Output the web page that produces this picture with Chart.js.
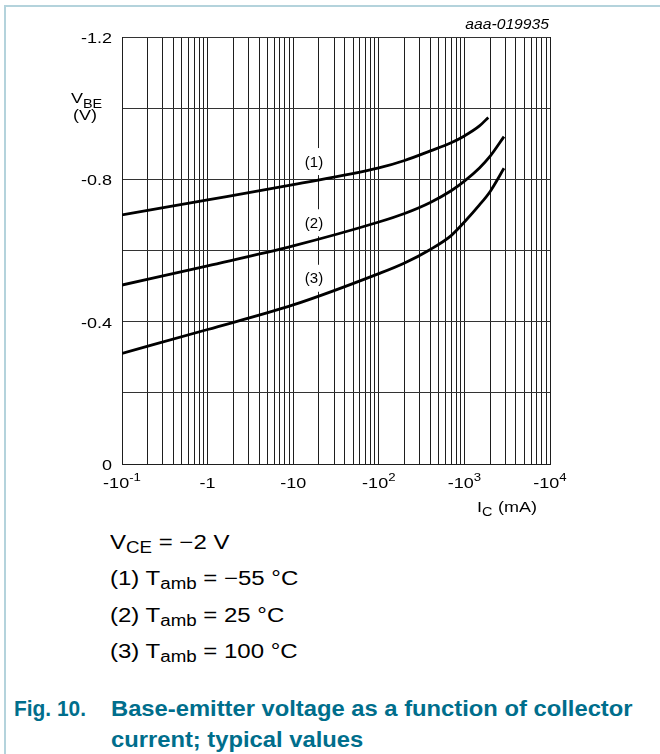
<!DOCTYPE html>
<html><head><meta charset="utf-8">
<script src="https://cdn.jsdelivr.net/npm/chart.js@4.4.0/dist/chart.umd.min.js"></script>
<style>
html,body{margin:0;padding:0;background:#fff;width:660px;height:754px;overflow:hidden;position:relative;font-family:"Liberation Sans",Arial,sans-serif;}
#frameTop{position:absolute;left:4px;top:5px;width:656px;height:0;border-top:2px solid #b4d3dc;}
#frameLeft{position:absolute;left:4px;top:5px;width:0;height:749px;border-left:2px solid #b4d3dc;}
#c{position:absolute;left:0;top:0;}
.cond{position:absolute;left:110px;font-size:20px;line-height:20px;color:#000;white-space:nowrap;transform:scaleX(1.2);transform-origin:0 0;}
.cond sub{font-size:0.78em;vertical-align:-4px;line-height:0;}
.cap{position:absolute;font-weight:bold;font-size:22px;line-height:22px;color:#006e8c;white-space:nowrap;transform-origin:0 0;}
</style></head>
<body>
<div id="frameTop"></div><div id="frameLeft"></div>
<canvas id="c" width="660" height="530"></canvas>
<div class="cond" style="top:532px">V<sub>CE</sub> = −2 V</div>
<div class="cond" style="top:568px">(1) T<sub>amb</sub> = −55 °C</div>
<div class="cond" style="top:605px">(2) T<sub>amb</sub> = 25 °C</div>
<div class="cond" style="top:641px">(3) T<sub>amb</sub> = 100 °C</div>
<div class="cap" style="left:14px;top:698px;transform:scaleX(0.95)">Fig. 10.</div>
<div class="cap" style="left:111px;top:698px;transform:scaleX(1.08)">Base-emitter voltage as a function of collector</div>
<div class="cap" style="left:111px;top:729px;transform:scaleX(1.08)">current; typical values</div>
<script>
// ---- data (collector current magnitude in mA, V_BE in V) ----
const icT1  = [0.1, 1, 10, 100, 200, 400, 700, 1000, 1500, 1900];
const vbeT1 = [-0.700, -0.742, -0.785, -0.832, -0.853, -0.880, -0.903, -0.922, -0.950, -0.974];
const icT2  = [0.1, 1, 10, 100, 200, 400, 700, 1000, 1500, 2000, 2900];
const vbeT2 = [-0.503, -0.557, -0.613, -0.680, -0.704, -0.735, -0.768, -0.795, -0.832, -0.865, -0.920];
const icT3  = [0.1, 1, 10, 100, 200, 400, 700, 1000, 1500, 2000, 2900];
const vbeT3 = [-0.311, -0.378, -0.447, -0.535, -0.565, -0.603, -0.642, -0.680, -0.728, -0.766, -0.831];

const seriesLabels = ['(1)', '(2)', '(3)'];
const labelAnchorIc = 20;
const labelAnchorV = [-0.85, -0.678, -0.522];

const xTickValues = [0.1, 1, 10, 100, 1000, 10000];
const xTickBase   = ['-10', '-1', '-10', '-10', '-10', '-10'];
const xTickExp    = ['-1', '', '', '2', '3', '4'];
const xGridDecades = [0.1, 1, 10, 100, 1000];
const xGridMultipliers = [1, 2, 3, 4, 5, 6, 7, 8, 9];
const xMin = 0.1, xMax = 10000;

const yTickValues = [-1.2, -0.8, -0.4, 0];
const yTickLabels = ['-1.2', '-0.8', '-0.4', '0'];
const yMin = -1.2, yMax = 0, yGridStep = 0.2;

const figId = 'aaa-019935';

// ---- helpers ----
const FF = '"Liberation Sans", Arial, sans-serif';
function sText(ctx, txt, x, y, font, align, sx) {
  ctx.save();
  ctx.font = font; ctx.fillStyle = '#000';
  ctx.textBaseline = 'alphabetic'; ctx.textAlign = align;
  ctx.translate(x, y); ctx.scale(sx, 1);
  ctx.fillText(txt, 0, 0);
  ctx.restore();
}
function pts(xs, ys) { return xs.map((x, i) => ({x: x, y: ys[i]})); }

const gridValues = [];
xGridDecades.forEach(d => xGridMultipliers.forEach(m => gridValues.push(+(m * d).toPrecision(3))));
gridValues.push(xMax);

const textPlugin = {
  id: 'textPlugin',
  beforeDatasetsDraw(chart) {
    const ctx = chart.ctx, xs = chart.scales.x, ys = chart.scales.y;
    const lx = xs.getPixelForValue(labelAnchorIc);
    seriesLabels.forEach((t, i) => {
      const ly = ys.getPixelForValue(labelAnchorV[i]);
      ctx.save(); ctx.fillStyle = '#fff';
      ctx.fillRect(lx - 16, ly - 13.5, 24, 27);
      ctx.restore();
      sText(ctx, t, lx - 5, ly + 5, '15px ' + FF, 'center', 1.0);
    });
  },
  afterDraw(chart) {
    const ctx = chart.ctx, xs = chart.scales.x, ys = chart.scales.y;
    const sx = 1.2;
    yTickValues.forEach((v, i) => {
      sText(ctx, yTickLabels[i], 112, ys.getPixelForValue(v) + 6, '15px ' + FF, 'right', sx);
    });
    xTickValues.forEach((v, i) => {
      const px = xs.getPixelForValue(v);
      ctx.save();
      ctx.font = '15px ' + FF; const w1 = ctx.measureText(xTickBase[i]).width * sx;
      ctx.font = '11px ' + FF; const w2 = xTickExp[i] ? ctx.measureText(xTickExp[i]).width * sx : 0;
      ctx.restore();
      const start = px - (w1 + w2) / 2;
      sText(ctx, xTickBase[i], start, 488, '15px ' + FF, 'left', sx);
      if (xTickExp[i]) sText(ctx, xTickExp[i], start + w1, 481, '11px ' + FF, 'left', sx);
    });
    // y axis title
    sText(ctx, 'V', 71, 103, '15px ' + FF, 'left', sx);
    sText(ctx, 'BE', 83, 108, '12px ' + FF, 'left', sx);
    sText(ctx, '(V)', 73, 120, '15px ' + FF, 'left', sx);
    // x axis title
    sText(ctx, 'I', 477, 512, '15px ' + FF, 'left', sx);
    sText(ctx, 'C', 482, 516, '12px ' + FF, 'left', sx);
    sText(ctx, '(mA)', 498, 512, '15px ' + FF, 'left', sx);
    sText(ctx, figId, 549, 29, 'italic 14px ' + FF, 'right', 1.12);
  }
};

const lineStyle = {borderColor: '#000', borderWidth: 2.8, pointRadius: 0, fill: false, cubicInterpolationMode: 'monotone'};

new Chart(document.getElementById('c'), {
  type: 'line',
  data: {
    datasets: [
      Object.assign({label: 'Tamb = -55 °C', data: pts(icT1, vbeT1)}, lineStyle),
      Object.assign({label: 'Tamb = 25 °C', data: pts(icT2, vbeT2)}, lineStyle),
      Object.assign({label: 'Tamb = 100 °C', data: pts(icT3, vbeT3)}, lineStyle)
    ]
  },
  options: {
    responsive: false, devicePixelRatio: 1, animation: false,
    layout: {padding: {left: 0, right: 110, top: 37, bottom: 0}},
    plugins: {legend: {display: false}, tooltip: {enabled: false}},
    scales: {
      x: {
        type: 'logarithmic', min: xMin, max: xMax,
        afterBuildTicks(scale) { scale.ticks = gridValues.map(v => ({value: v})); },
        afterFit(scale) { scale.height = 66; },
        ticks: {display: false},
        grid: {color: '#1e1e1e', lineWidth: 1, drawTicks: false},
        border: {color: '#1e1e1e', width: 1}
      },
      y: {
        type: 'linear', min: yMin, max: yMax, reverse: true,
        ticks: {display: false, stepSize: yGridStep},
        afterFit(scale) { scale.width = 122; },
        grid: {color: '#333', lineWidth: 1, drawTicks: false},
        border: {color: '#1e1e1e', width: 1}
      }
    }
  },
  plugins: [textPlugin]
});
</script>
</body></html>
